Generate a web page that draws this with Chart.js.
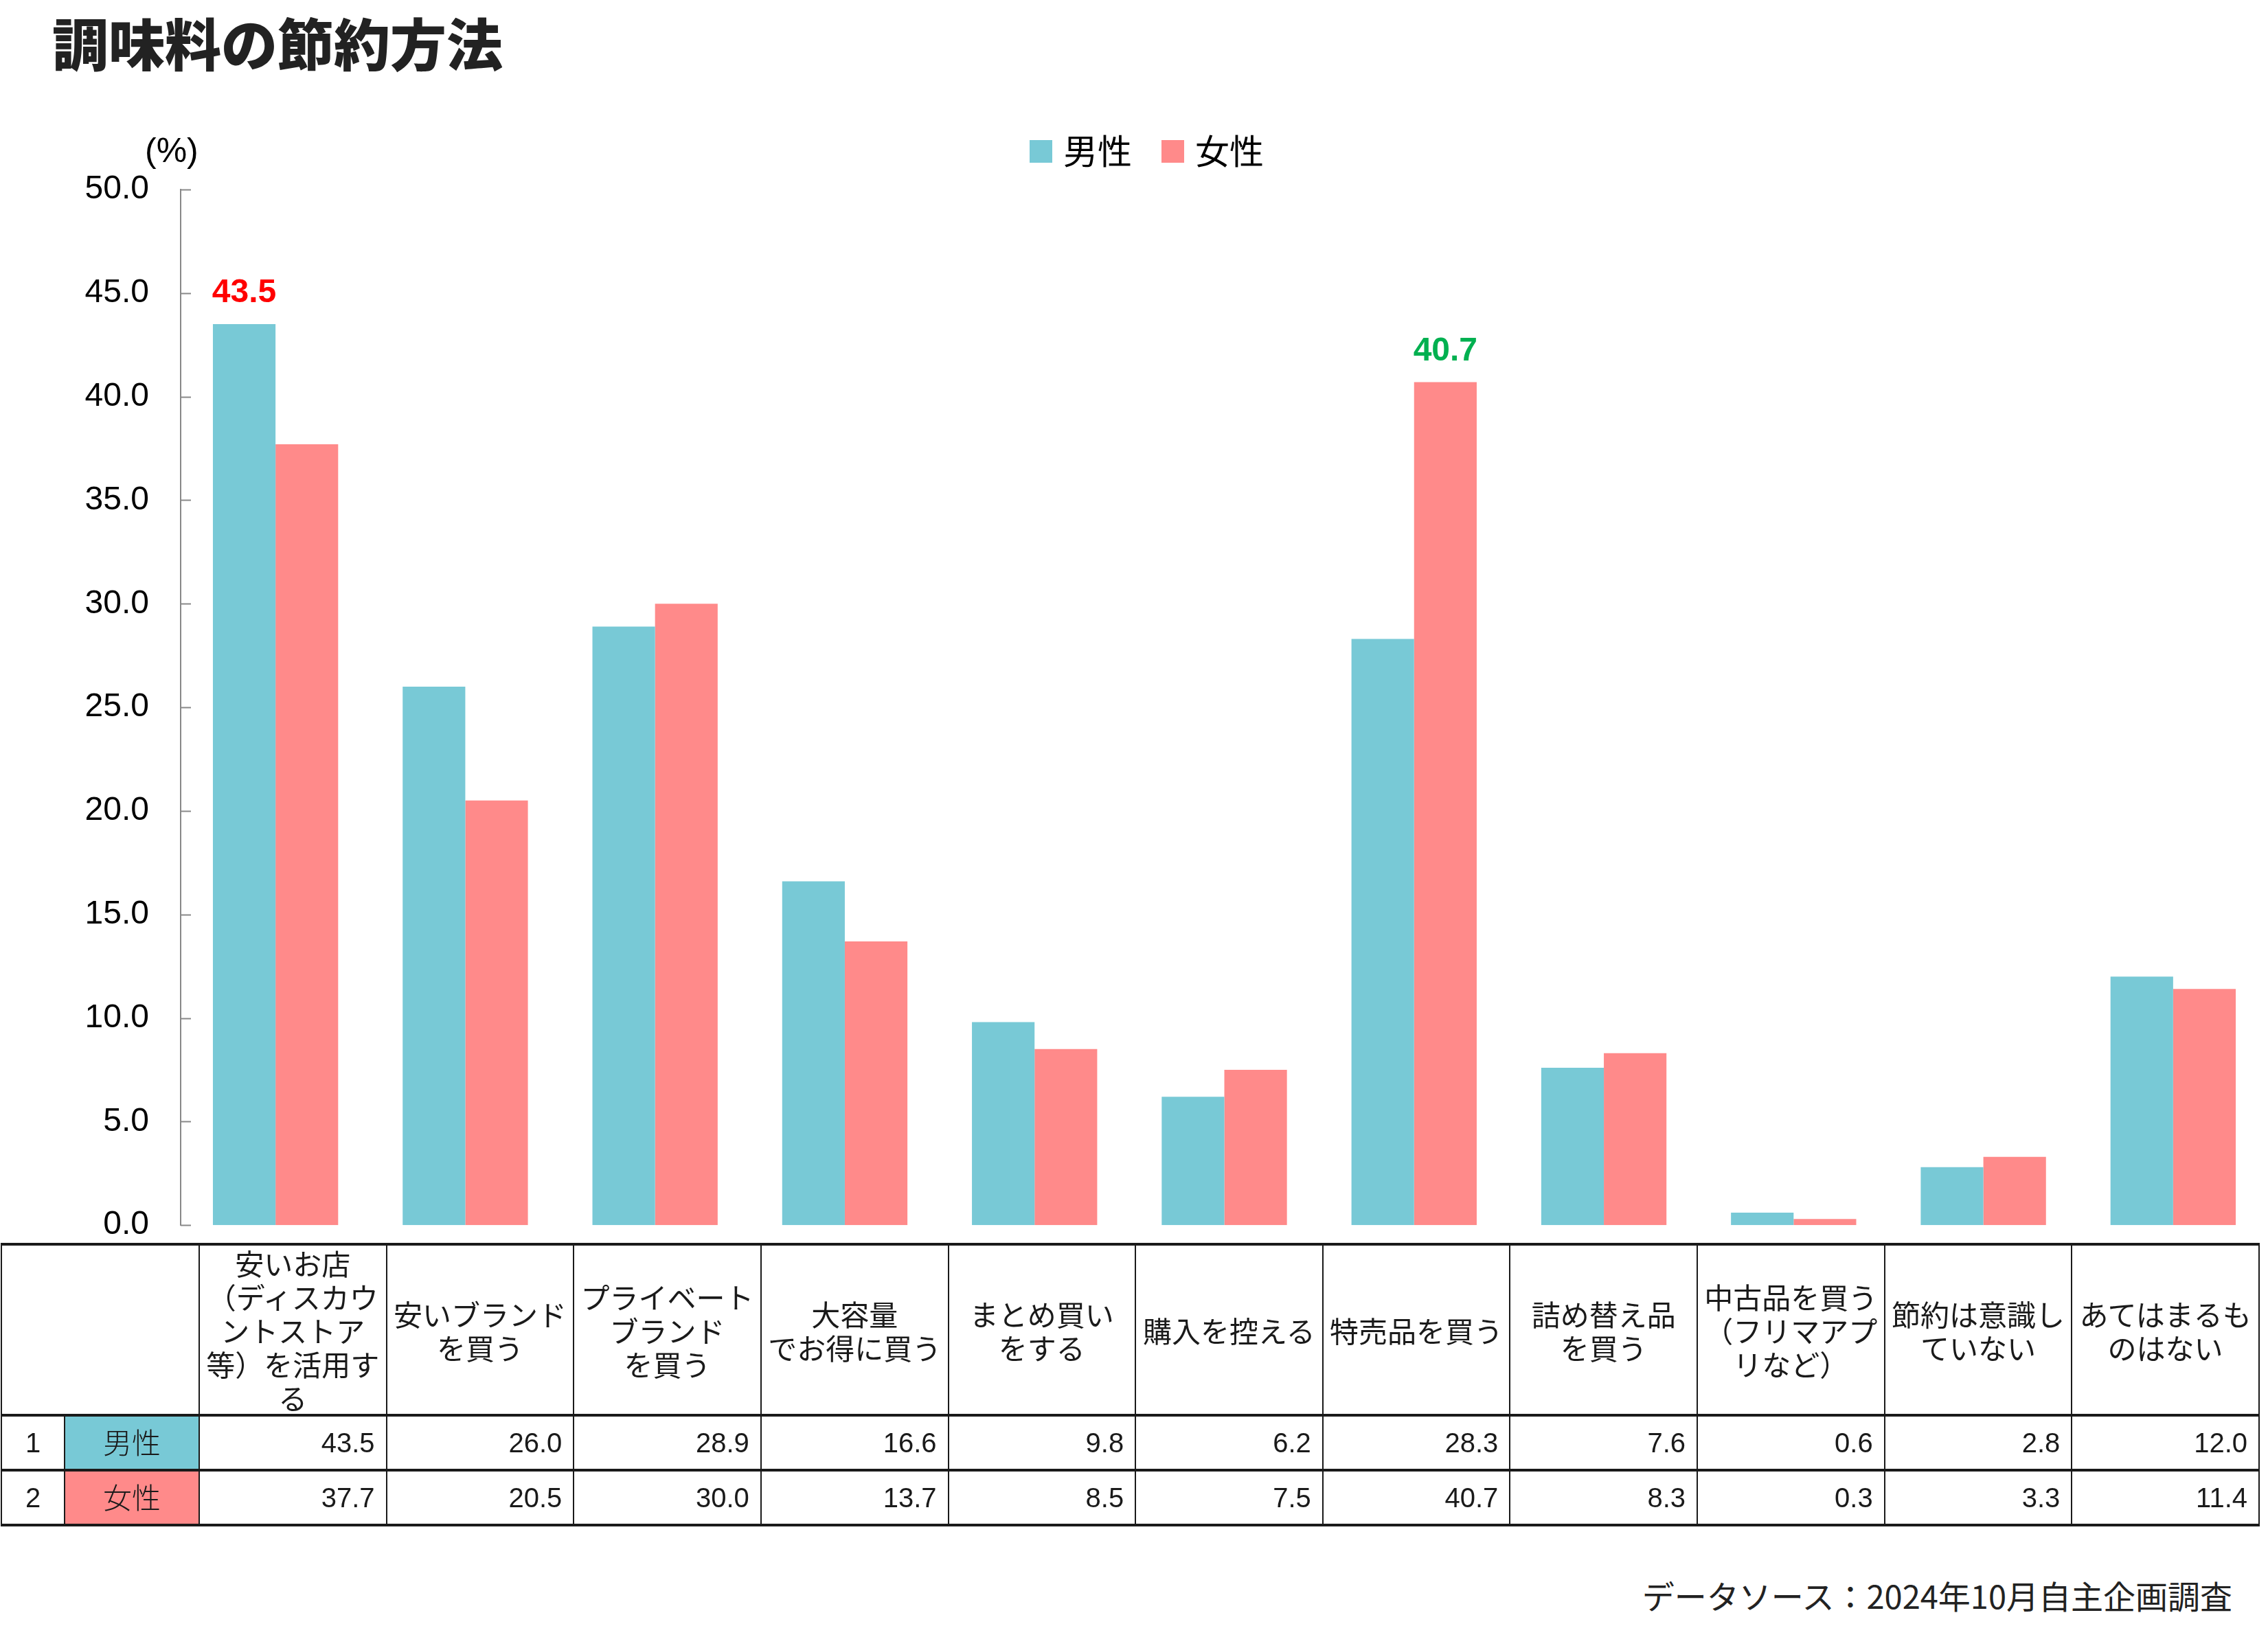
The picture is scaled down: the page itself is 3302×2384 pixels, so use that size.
<!DOCTYPE html>
<html lang="ja">
<head>
<meta charset="utf-8">
<title>調味料の節約方法</title>
<script src="https://cdn.jsdelivr.net/npm/chart.js@4.4.1/dist/chart.umd.min.js"></script>
<style>
  html, body { margin: 0; padding: 0; background: #fff; }
  #page { position: relative; width: 3302px; height: 2384px; overflow: hidden;
          font-family: "Noto Sans CJK JP", sans-serif; color: #000; }
  #title { position: absolute; left: 76px; top: 11px; font-size: 82px; font-weight: 900;
           line-height: 100px; color: #222; white-space: nowrap; }
  #unit { position: absolute; left: 211px; top: 189px; font-size: 50px; line-height: 60px;
          font-family: "Liberation Sans", Arial, sans-serif; }
  #legend { position: absolute; left: 1499px; top: 187px; height: 60px; display: flex;
            align-items: center; font-size: 50px; line-height: 60px; }
  #legend .item { display: flex; align-items: center; margin-right: 43px; }
  #legend .box { width: 33px; height: 33px; margin-right: 16px; margin-top: 6px; }
  #chartBox { position: absolute; left: 0; top: 0; width: 3302px; height: 1859px; }
  #tbl { position: absolute; left: 1px; top: 1810px; width: 3289px; border-collapse: collapse;
         table-layout: fixed; color: #1a1a1a; }
  #tbl td { border-left: 2px solid #1a1a1a; border-right: 2px solid #1a1a1a;
            border-top: 4px solid #1a1a1a; border-bottom: 4px solid #1a1a1a; padding: 0 4px; }
  #tbl tr.head td { height: 245px; text-align: center; vertical-align: middle; font-size: 42px;
                    line-height: 49px; white-space: pre-line; }
  #tbl tr.row td { height: 70px; vertical-align: middle; }
  #tbl td.num { font-family: "Liberation Sans", Arial, sans-serif; font-size: 40px; text-align: center; }
  #tbl td.name { font-size: 42px; text-align: center; font-weight: 300; padding-bottom: 6px; }
  #tbl td.val { font-family: "Liberation Sans", Arial, sans-serif; font-size: 40px;
                text-align: right; padding-right: 16px; }
  #source { position: absolute; right: 52px; top: 2293px; font-size: 47px; line-height: 60px;
            color: #222; white-space: nowrap; }
</style>
</head>
<body>
<div id="page">
  <div id="title">調味料の節約方法</div>
  <div id="unit">(%)</div>
  <div id="legend"></div>
  <div id="chartBox"><canvas id="saveChart" width="3302" height="1859"></canvas></div>
  <table id="tbl"></table>
  <div id="source">データソース：2024年10月自主企画調査</div>
</div>
<script>
// categories (line breaks as in the table header)
const categories = [
  '安いお店\n（ディスカウントストア等）を活用する',
  '安いブランド\nを買う',
  'プライベート\nブランド\nを買う',
  '大容量\nでお得に買う',
  'まとめ買い\nをする',
  '購入を控える',
  '特売品を買う',
  '詰め替え品\nを買う',
  '中古品を買う（フリマアプリなど）',
  '節約は意識していない',
  'あてはまるものはない'
];
const seriesNames = ['男性', '女性'];
const maleValues = [43.5, 26.0, 28.9, 16.6, 9.8, 6.2, 28.3, 7.6, 0.6, 2.8, 12.0];
const femaleValues = [37.7, 20.5, 30.0, 13.7, 8.5, 7.5, 40.7, 8.3, 0.3, 3.3, 11.4];
const yTicks = [0, 5, 10, 15, 20, 25, 30, 35, 40, 45, 50];

// highlighted values drawn above bars
const highlightSeries = [0, 1];
const highlightIndex = [0, 6];

const seriesColors = ['#78C9D6', '#FF8A8A'];
const highlightColors = ['#FF0000', '#00B050'];
const allValues = [maleValues, femaleValues];

// legend
const legendEl = document.getElementById('legend');
seriesNames.forEach((name, i) => {
  const item = document.createElement('div');
  item.className = 'item';
  item.innerHTML = '<div class="box" style="background:' + seriesColors[i] + '"></div><span>' + name + '</span>';
  legendEl.appendChild(item);
});

// table under the chart
const tbl = document.getElementById('tbl');
let html = '<colgroup><col style="width:92px"><col style="width:196px">';
categories.forEach(() => { html += '<col>'; });
html += '</colgroup><tr class="head"><td colspan="2"></td>';
categories.forEach(c => { html += '<td>' + c + '</td>'; });
html += '</tr>';
seriesNames.forEach((name, s) => {
  html += '<tr class="row"><td class="num">' + (s + 1) + '</td>';
  html += '<td class="name" style="background:' + seriesColors[s] + '">' + name + '</td>';
  allValues[s].forEach(v => { html += '<td class="val">' + v.toFixed(1) + '</td>'; });
  html += '</tr>';
});
tbl.innerHTML = html;

// small tick marks pointing into the plot
const inwardTicks = {
  id: 'inwardTicks',
  afterDraw(chart) {
    const ctx = chart.ctx;
    const y = chart.scales.y;
    ctx.save();
    ctx.strokeStyle = '#888';
    ctx.lineWidth = 2;
    yTicks.forEach(t => {
      const py = Math.round(y.getPixelForValue(t)) + 0.5;
      ctx.beginPath();
      ctx.moveTo(y.right, py);
      ctx.lineTo(y.right + 15, py);
      ctx.stroke();
    });
    ctx.restore();
  }
};

// value labels for the highlighted bars
const valueLabels = {
  id: 'valueLabels',
  afterDatasetsDraw(chart) {
    const ctx = chart.ctx;
    ctx.save();
    ctx.font = 'bold 48px "Liberation Sans", Arial, sans-serif';
    ctx.textAlign = 'center';
    ctx.textBaseline = 'middle';
    highlightSeries.forEach((s, k) => {
      const bar = chart.getDatasetMeta(s).data[highlightIndex[k]];
      ctx.fillStyle = highlightColors[k];
      ctx.fillText(allValues[s][highlightIndex[k]].toFixed(1), bar.x, bar.y - 45);
    });
    ctx.restore();
  }
};

const ctx = document.getElementById('saveChart').getContext('2d');
new Chart(ctx, {
  type: 'bar',
  data: {
    labels: categories,
    datasets: seriesNames.map((name, i) => ({
      label: name,
      data: allValues[i],
      backgroundColor: seriesColors[i],
      borderWidth: 0,
      categoryPercentage: 0.66,
      barPercentage: 1.0
    }))
  },
  options: {
    responsive: false,
    animation: false,
    devicePixelRatio: 1,
    layout: { padding: { top: 276, bottom: 16, left: 0, right: 0 } },
    plugins: {
      legend: { display: false },
      tooltip: { enabled: false }
    },
    scales: {
      x: { display: false },
      y: {
        min: 0,
        max: 50,
        afterBuildTicks: scale => { scale.ticks = yTicks.map(v => ({ value: v })); },
        afterFit: scale => { scale.width = 263; },
        ticks: {
          padding: 46,
          color: '#000',
          font: { family: '"Liberation Sans", Arial, sans-serif', size: 48 },
          callback: v => Number(v).toFixed(1)
        },
        grid: { display: false, drawTicks: false },
        border: { display: true, color: '#888', width: 2 }
      }
    }
  },
  plugins: [inwardTicks, valueLabels]
});
</script>
</body>
</html>
